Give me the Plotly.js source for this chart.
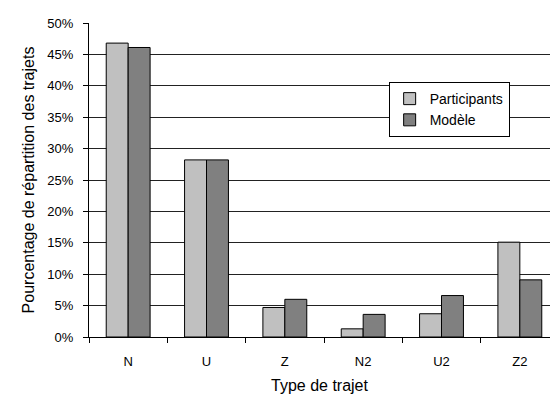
<!DOCTYPE html>
<html>
<head>
<meta charset="utf-8">
<script src="https://cdn.plot.ly/plotly-3.0.1.min.js"></script>
<style>html,body{margin:0;padding:0;background:#fff;}#chart{width:550px;height:401px;}</style>
</head>
<body>
<div id="chart"></div>
<script>
var categories = ["N", "U", "Z", "N2", "U2", "Z2"];
var participants = [0.468, 0.282, 0.047, 0.013, 0.037, 0.151];
var modele = [0.461, 0.282, 0.060, 0.036, 0.066, 0.091];
var yTickVals = [0, 0.05, 0.10, 0.15, 0.20, 0.25, 0.30, 0.35, 0.40, 0.45, 0.50];

var font = "'Liberation Sans', Arial, sans-serif";
var traces = [
  {type: "bar", name: "Participants", x: categories, y: participants,
   marker: {color: "#C0C0C0", line: {color: "#000", width: 1}}},
  {type: "bar", name: "Modèle", x: categories, y: modele,
   marker: {color: "#808080", line: {color: "#000", width: 1}}}
];
var layout = {
  width: 550, height: 401,
  margin: {l: 89, r: 0, t: 23, b: 64},
  paper_bgcolor: "#fff", plot_bgcolor: "#fff",
  font: {family: font, color: "#000", size: 13},
  barmode: "group", bargap: 0.44, bargroupgap: 0,
  showlegend: true,
  legend: {x: 0.65, y: 0.812, xanchor: "left", yanchor: "top",
    bgcolor: "#fff", bordercolor: "#000", borderwidth: 1,
    font: {family: font, size: 14, color: "#000"},
    tracegroupgap: 0, itemwidth: 30},
  xaxis: {
    range: [-0.5, 5.385], autorange: false,
    showline: true, linecolor: "#000", linewidth: 1,
    ticks: "outside", tickson: "boundaries", ticklen: 5, tickcolor: "#000",
    ticklabelstandoff: 12,
    showgrid: false, zeroline: false,
    tickfont: {family: font, size: 13, color: "#000"},
    title: {text: "Type de trajet", font: {family: font, size: 16, color: "#000"}, standoff: 12}
  },
  yaxis: {
    range: [0, 0.5], autorange: false,
    tickvals: yTickVals, tickformat: ".0%",
    showline: true, linecolor: "#000", linewidth: 1,
    ticks: "outside", ticklen: 5, tickcolor: "#000",
    ticklabelstandoff: 7,
    showgrid: true, gridcolor: "#222", gridwidth: 1, zeroline: false,
    tickfont: {family: font, size: 13, color: "#000"},
    title: {text: "Pourcentage de répartition des trajets", font: {family: font, size: 16, color: "#000"}, standoff: 8}
  }
};
Plotly.newPlot("chart", traces, layout, {displayModeBar: false, staticPlot: true});
</script>
</body>
</html>
